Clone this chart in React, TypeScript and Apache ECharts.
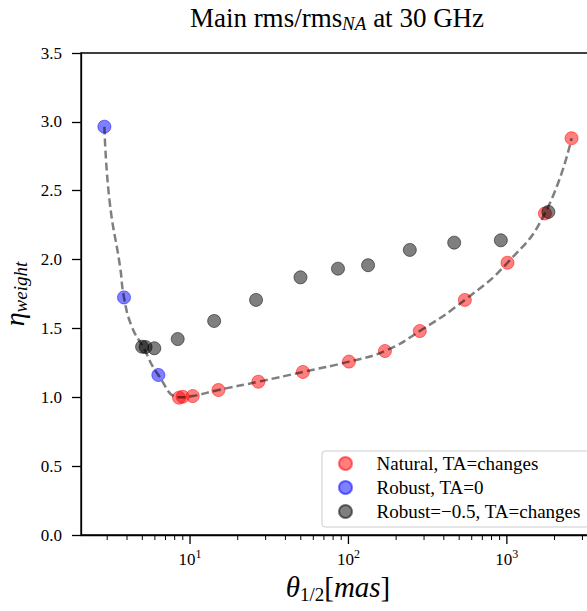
import React, { useEffect, useRef } from "react";
import * as echarts from "echarts";

// ---- data ----
const naturalX = [8.52, 8.99, 10.4, 15.1, 27.0, 51.6, 100.7, 170, 282, 543, 1009, 1738, 2560];
const naturalY = [0.997, 1.004, 1.009, 1.053, 1.113, 1.184, 1.259, 1.336, 1.481, 1.707, 1.977, 2.335, 2.881];

const robustX = [2.88, 3.83, 6.31];
const robustY = [2.965, 1.725, 1.162];

const robust05X = [4.98, 5.24, 5.95, 8.36, 14.2, 26.1, 49.8, 85.9, 133, 244, 465, 916, 1828];
const robust05Y = [1.367, 1.365, 1.356, 1.423, 1.554, 1.707, 1.871, 1.934, 1.959, 2.07, 2.123, 2.14, 2.346];

// dashed fit curve
const fitX = [2.88, 3.1, 3.62, 3.83, 4.29, 5.05, 6.31, 8.6, 10.4, 15.1, 27.0, 51.6, 100.7, 170, 282, 543, 1009, 1738, 2560];
const fitY = [2.965, 2.433, 1.946, 1.725, 1.513, 1.365, 1.162, 1.0, 1.009, 1.053, 1.113, 1.184, 1.259, 1.336, 1.481, 1.707, 1.977, 2.335, 2.881];

const seriesNames = ["Natural, TA=changes", "Robust, TA=0", "Robust=\u22120.5, TA=changes"];

const xMajorTicks = [10, 100, 1000];
const xMinorTicks = [3, 4, 5, 6, 7, 8, 9, 20, 30, 40, 50, 60, 70, 80, 90, 200, 300, 400, 500, 600, 700, 800, 900, 2000, 3000];

const FONT = "'Liberation Serif', 'DejaVu Serif', serif";

const zip = (xs: number[], ys: number[]) => xs.map((x, i) => [x, ys[i]]);

export default function App() {
  const ref = useRef<HTMLDivElement>(null);

  useEffect(() => {
    if (!ref.current) return;
    const chart = echarts.init(ref.current, undefined, { renderer: "svg" });

    const tickRender = (len: number, width: number) => (params: any, api: any) => {
      const p = api.coord([api.value(0), 0]);
      return {
        type: "line",
        shape: { x1: p[0], y1: p[1], x2: p[0], y2: p[1] + len },
        style: { stroke: "#000", lineWidth: width },
        silent: true,
      };
    };

    const option: any = {
      animation: false,
      backgroundColor: "#fff",
      graphic: [
        {
          type: "text",
          x: 337,
          y: 18,
          style: {
            text: "{a|Main rms/rms}{s|NA}{a| at 30 GHz}",
            textAlign: "center",
            textVerticalAlign: "middle",
            rich: {
              a: { fontFamily: FONT, fontSize: 27, lineHeight: 30, fill: "#000" },
              s: { fontFamily: FONT, fontSize: 19, fontStyle: "italic", lineHeight: 18, verticalAlign: "bottom", fill: "#000" },
            },
          },
        },
      ],
      grid: {
        left: 81,
        top: 53,
        width: 514,
        height: 482,
        show: true,
        borderColor: "#000",
        borderWidth: 1.3,
        backgroundColor: "transparent",
        outerBoundsMode: "none",
      },
      legend: {
        orient: "vertical",
        left: 322,
        top: 451,
        padding: [3, 8, 6, 16],
        itemWidth: 26,
        itemHeight: 13,
        itemGap: 5,
        backgroundColor: "rgba(255,255,255,0.85)",
        borderColor: "#cccccc",
        borderWidth: 1,
        borderRadius: 3,
        data: seriesNames.map((n) => ({ name: n, icon: "circle" })),
        textStyle: { fontFamily: FONT, fontSize: 19, color: "#000", lineHeight: 16, padding: [0, 0, 0, 13] },
      },
      xAxis: {
        type: "log",
        logBase: 10,
        min: 2.05,
        max: 3600,
        axisLine: { show: true, lineStyle: { color: "#000", width: 1.3 } },
        axisTick: { show: false },
        minorTick: { show: false },
        splitLine: { show: false },
        minorSplitLine: { show: false },
        axisLabel: {
          showMinLabel: false,
          showMaxLabel: false,
          margin: 13,
          formatter: (v: number) => {
            const e = Math.log10(v);
            const r = Math.round(e);
            if (Math.abs(e - r) > 1e-6) return "";
            return "{b|10}{p|" + r + "}";
          },
          rich: {
            b: { fontFamily: FONT, fontSize: 17, lineHeight: 22, color: "#000" },
            p: { fontFamily: FONT, fontSize: 12, lineHeight: 14, verticalAlign: "top", color: "#000" },
          },
        },
        name: "{t|\u03b8}{s|1/2}{n|[}{t|mas}{n|]}",
        nameLocation: "middle",
        nameGap: 32,
        nameTextStyle: {
          rich: {
            t: { fontFamily: FONT, fontSize: 29, fontStyle: "italic", lineHeight: 34, color: "#000" },
            n: { fontFamily: FONT, fontSize: 29, lineHeight: 34, color: "#000" },
            s: { fontFamily: FONT, fontSize: 19, lineHeight: 18, verticalAlign: "bottom", color: "#000" },
          },
        },
      },
      yAxis: {
        type: "value",
        min: 0,
        max: 3.5,
        interval: 0.5,
        axisLine: { show: true, lineStyle: { color: "#000", width: 1.3 } },
        axisTick: { show: true, length: 9, lineStyle: { color: "#000", width: 1.3 } },
        splitLine: { show: false },
        axisLabel: {
          margin: 19,
          fontFamily: FONT,
          fontSize: 17,
          color: "#000",
          formatter: (v: number) => v.toFixed(1),
        },
        name: "{t|\u03b7}{s|weight}",
        nameLocation: "middle",
        nameGap: 44,
        nameRotate: 90,
        nameTextStyle: {
          rich: {
            t: { fontFamily: FONT, fontSize: 28, fontStyle: "italic", lineHeight: 30, color: "#000" },
            s: { fontFamily: FONT, fontSize: 19, fontStyle: "italic", lineHeight: 16, verticalAlign: "bottom", color: "#000" },
          },
        },
      },
      series: [
        {
          name: seriesNames[0],
          type: "scatter",
          symbol: "circle",
          symbolSize: 13,
          data: zip(naturalX, naturalY),
          itemStyle: { color: "rgba(255,0,0,0.5)", borderColor: "rgba(255,0,0,0.5)", borderWidth: 1, opacity: 1 },
          emphasis: { disabled: true },
        },
        {
          name: seriesNames[1],
          type: "scatter",
          symbol: "circle",
          symbolSize: 13,
          data: zip(robustX, robustY),
          itemStyle: { color: "rgba(0,0,255,0.5)", borderColor: "rgba(0,0,255,0.5)", borderWidth: 1, opacity: 1 },
          emphasis: { disabled: true },
        },
        {
          name: seriesNames[2],
          type: "scatter",
          symbol: "circle",
          symbolSize: 13,
          data: zip(robust05X, robust05Y),
          itemStyle: { color: "rgba(0,0,0,0.5)", borderColor: "rgba(0,0,0,0.5)", borderWidth: 1, opacity: 1 },
          emphasis: { disabled: true },
        },
        {
          name: "fit",
          type: "line",
          data: zip(fitX, fitY),
          showSymbol: false,
          symbol: "none",
          smooth: 0.5,
          lineStyle: { color: "rgba(0,0,0,0.5)", width: 2.5, type: [8, 4] },
          emphasis: { disabled: true },
          z: 3,
        },
        {
          name: "xMajorTicks",
          type: "custom",
          renderItem: tickRender(9, 1.3),
          data: xMajorTicks.map((v) => [v, 0]),
          clip: false,
          silent: true,
          z: 5,
        },
        {
          name: "xMinorTicks",
          type: "custom",
          renderItem: tickRender(5, 1),
          data: xMinorTicks.map((v) => [v, 0]),
          clip: false,
          silent: true,
          z: 5,
        },
      ],
    };

    chart.setOption(option);
    return () => chart.dispose();
  }, []);

  return (
    <div
      ref={ref}
      style={{ position: "fixed", left: 0, top: 0, width: 587, height: 611, background: "#fff" }}
    />
  );
}
